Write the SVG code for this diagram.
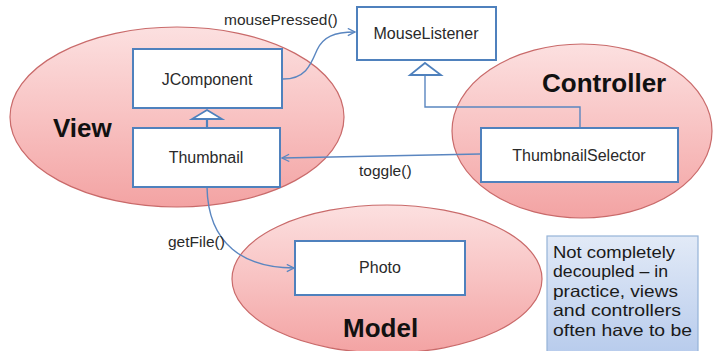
<svg xmlns="http://www.w3.org/2000/svg" width="715" height="351" viewBox="0 0 715 351">
  <style>
    .area { stroke: #c96a6a; stroke-width: 1.2; }
    .box { fill: #ffffff; stroke: #4f81bd; stroke-width: 2; }
    .cls { font-family: "Liberation Sans", Arial, sans-serif; font-size: 16px; fill: #2a2a2a; text-anchor: middle; }
    .lbl { font-family: "Liberation Sans", Arial, sans-serif; font-size: 15.5px; fill: #2a2a2a; }
    .big { font-family: "Liberation Sans", Arial, sans-serif; font-size: 26px; font-weight: bold; fill: #111111; }
    .wire { fill: none; stroke: #5a86c0; stroke-width: 1.4; }
    .gen { fill: #ffffff; stroke: #4f81bd; stroke-width: 1.8; }
    .note { fill: url(#noteFill); stroke: #95b3d7; stroke-width: 1.2; }
    .notetxt { font-family: "Liberation Sans", Arial, sans-serif; font-size: 16.5px; fill: #1a1a1a; }
  </style>
  <defs>
    <linearGradient id="pink" x1="0" y1="0" x2="0" y2="1">
      <stop offset="0" stop-color="#fce0e0"/>
      <stop offset="0.5" stop-color="#f8c2c2"/>
      <stop offset="1" stop-color="#f3a3a3"/>
    </linearGradient>
    <linearGradient id="noteFill" x1="0" y1="0" x2="0" y2="1">
      <stop offset="0" stop-color="#e2eaf7"/>
      <stop offset="1" stop-color="#b7cbec"/>
    </linearGradient>
    <marker id="open" viewBox="0 0 10 10" refX="9" refY="5" markerWidth="9" markerHeight="9" markerUnits="userSpaceOnUse" orient="auto">
      <path d="M1,1 L9,5 L1,9" fill="none" stroke="#5a86c0" stroke-width="1.4"/>
    </marker>
  </defs>

  <!-- package areas -->
  <g id="view">
    <ellipse class="area" cx="177" cy="117" rx="167" ry="90" fill="url(#pink)"/>
    <text class="big" x="53" y="137">View</text>
  </g>
  <g id="controller">
    <ellipse class="area" cx="582" cy="131" rx="130" ry="87" fill="url(#pink)"/>
    <text class="big" x="542" y="92">Controller</text>
  </g>
  <g id="model">
    <ellipse class="area" cx="387" cy="279" rx="155" ry="74" fill="url(#pink)"/>
    <text class="big" x="343" y="337">Model</text>
  </g>

  <!-- connectors -->
  <g id="connectors">
    <path class="wire" d="M283,79 C306,79 311,64 317,50 C323,37 334,32 355,32" marker-end="url(#open)"/>
    <path class="wire" d="M480,154 L282,158" marker-end="url(#open)"/>
    <path class="wire" d="M207,187 C208,245 245,268 294,268" marker-end="url(#open)"/>
    <path class="wire" d="M580,128 L580,107 L425,107 L425,75"/>
    <path class="gen" d="M425,63 L441,75 L410,75 Z"/>
    <line x1="207" y1="128" x2="207" y2="119" stroke="#4f81bd" stroke-width="2.2"/>
    <path class="gen" d="M207,110 L222,119 L192,119 Z"/>
    <text class="lbl" x="224" y="25">mousePressed()</text>
    <text class="lbl" x="359" y="176">toggle()</text>
    <text class="lbl" x="168" y="247">getFile()</text>
  </g>

  <!-- classes -->
  <g id="jcomponent">
    <rect class="box" x="133" y="49" width="149" height="59"/>
    <text class="cls" x="207" y="85">JComponent</text>
  </g>
  <g id="thumbnail">
    <rect class="box" x="133" y="128" width="147" height="59"/>
    <text class="cls" x="206" y="163">Thumbnail</text>
  </g>
  <g id="mouselistener">
    <rect class="box" x="357" y="7" width="139" height="53"/>
    <text class="cls" x="426" y="39">MouseListener</text>
  </g>
  <g id="thumbnailselector">
    <rect class="box" x="481" y="128" width="197" height="54"/>
    <text class="cls" x="579" y="161">ThumbnailSelector</text>
  </g>
  <g id="photo">
    <rect class="box" x="295" y="241" width="170" height="54"/>
    <text class="cls" x="380" y="273">Photo</text>
  </g>

  <!-- annotation -->
  <g id="note">
    <rect class="note" x="547" y="236" width="151" height="120"/>
    <text class="notetxt" x="553" y="258" textLength="122" lengthAdjust="spacingAndGlyphs">Not completely</text>
    <text class="notetxt" x="553" y="277" textLength="115" lengthAdjust="spacingAndGlyphs">decoupled – in</text>
    <text class="notetxt" x="553" y="297" textLength="125" lengthAdjust="spacingAndGlyphs">practice, views</text>
    <text class="notetxt" x="553" y="316" textLength="128" lengthAdjust="spacingAndGlyphs">and controllers</text>
    <text class="notetxt" x="553" y="336" textLength="139" lengthAdjust="spacingAndGlyphs">often have to be</text>
  </g>
</svg>
